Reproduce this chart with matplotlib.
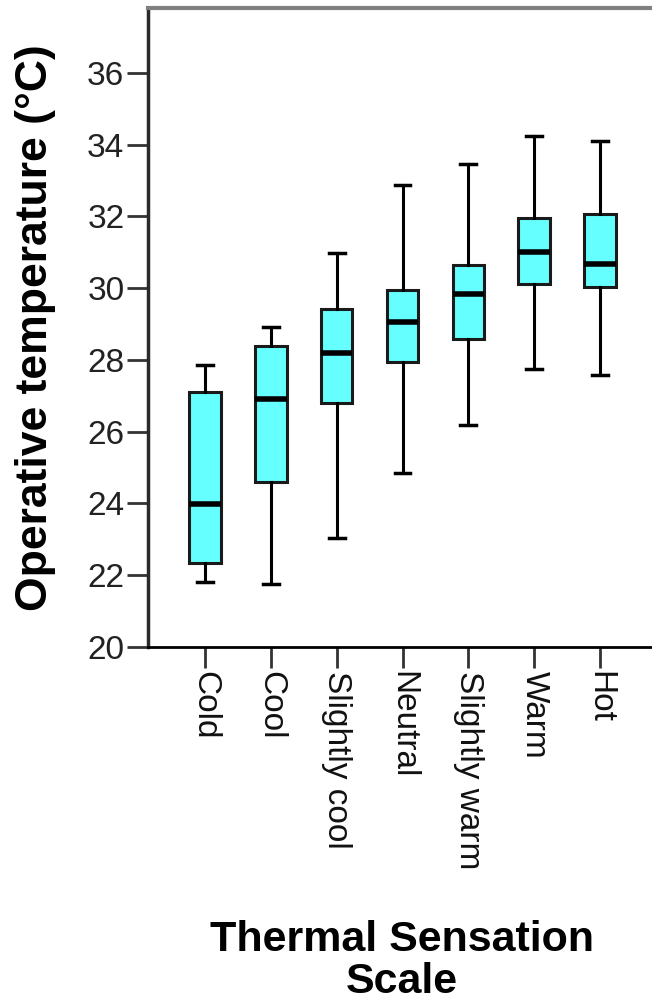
import matplotlib
matplotlib.use("Agg")
import matplotlib.pyplot as plt

plt.rcParams['font.family'] = ['Liberation Sans', 'DejaVu Sans']

# Box statistics (operative temperature, degC)
categories = ['Cold', 'Cool', 'Slightly cool', 'Neutral', 'Slightly warm', 'Warm', 'Hot']
whislo = [21.80, 21.76, 23.03, 24.86, 26.19, 27.76, 27.57]
q1 = [22.35, 24.61, 26.79, 27.94, 28.58, 30.12, 30.04]
med = [23.99, 26.91, 28.19, 29.07, 29.85, 31.00, 30.68]
q3 = [27.12, 28.40, 29.42, 29.95, 30.66, 31.96, 32.07]
whishi = [27.86, 28.93, 30.99, 32.87, 33.47, 34.24, 34.10]
yticks = [20, 22, 24, 26, 28, 30, 32, 34, 36]

stats = []
for i, name in enumerate(categories):
    stats.append(dict(label=name, whislo=whislo[i], q1=q1[i], med=med[i],
                      q3=q3[i], whishi=whishi[i], fliers=[]))

fig = plt.figure(figsize=(6.52, 10.01), dpi=100)
ax = fig.add_axes([148 / 652, 1 - 647 / 1001, 1 - 148 / 652, (647 - 8) / 1001])

positions = list(range(1, len(categories) + 1))
ax.bxp(stats, positions=positions, widths=0.48, patch_artist=True,
       showfliers=False,
       boxprops=dict(facecolor='#66FFFF', edgecolor='#1a1a1a', linewidth=2.2),
       medianprops=dict(color='black', linewidth=4),
       whiskerprops=dict(color='black', linewidth=2.2),
       capprops=dict(color='black', linewidth=2.5))

ax.set_xlim(0.134, 7.79)
ax.set_ylim(20, 37.81)
ax.set_yticks(yticks)
ax.set_yticklabels([str(t) for t in yticks], fontsize=24, color='#222222')
ax.set_xticks(positions)
ax.set_xticklabels(categories, rotation=270, fontsize=24, color='#111111')

ax.tick_params(axis='both', length=15, width=2, color='#333333', pad=2)

ax.spines['right'].set_visible(False)
ax.spines['top'].set_color('#808080')
ax.spines['top'].set_linewidth(3)
ax.spines['left'].set_color('#2a2a2a')
ax.spines['left'].set_linewidth(2.5)
ax.spines['bottom'].set_color('black')
ax.spines['bottom'].set_linewidth(2)

fig.text(36 / 652, 1 - 328 / 1001, 'Operative temperature (°C)', rotation=90,
         ha='center', va='center', fontsize=32, fontweight='bold')
fig.text(402 / 652, 1 - 920 / 1001, 'Thermal Sensation\nScale', ha='center', va='top',
         fontsize=31, fontweight='bold', linespacing=1.05)

fig.savefig('out.png', dpi=100)
